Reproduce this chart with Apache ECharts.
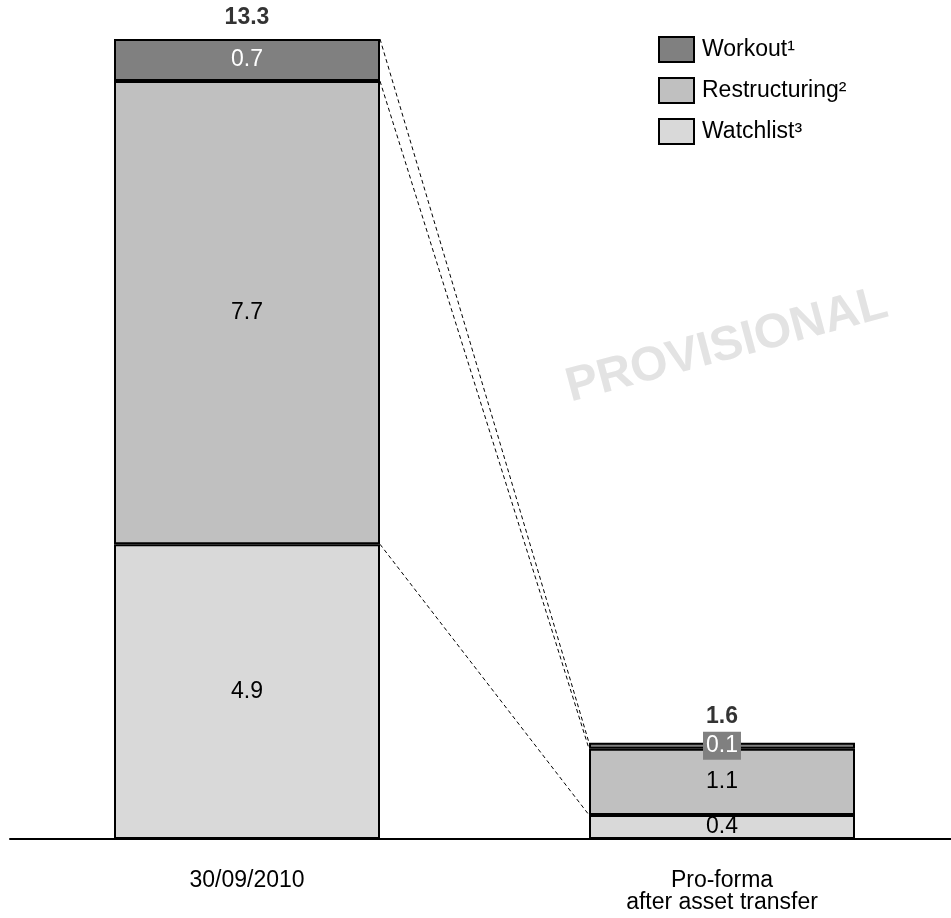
<!DOCTYPE html>
<html>
<head>
<meta charset="utf-8">
<script src="https://cdn.jsdelivr.net/npm/echarts@6/dist/echarts.min.js"></script>
<style>html,body{margin:0;padding:0;background:#fff}#c{width:951px;height:918px}</style>
</head>
<body>
<div id="c"></div>
<script>
const categories = ['30/09/2010', 'Pro-forma\nafter asset transfer'];
const watchlist = [4.9, 0.4];
const restructuring = [7.7, 1.1];
const workout = [0.7, 0.1];
const totals = [13.3, 1.6];
const seriesNames = ['Workout\u00b9', 'Restructuring\u00b2', 'Watchlist\u00b3'];

const FONT = '"Liberation Sans", Arial, sans-serif';
const FS = 23;
const BAR_W = 266;

// connector lines: [fromValue on bar 0, toValue on bar 1]
const cum1 = [watchlist[0], watchlist[0] + restructuring[0], totals[0]];
const cum2 = [watchlist[1], watchlist[1] + restructuring[1], totals[1]];
const connectors = cum1.map((v, i) => [0, v, 1, cum2[i]]);

const chart = echarts.init(document.getElementById('c'), null, {renderer: 'canvas'});

const barBase = {
  type: 'bar', stack: 'a', barWidth: BAR_W, clip: false,
  label: {show: true, position: 'inside', fontSize: FS, fontFamily: FONT, color: '#000'}
};

chart.setOption({
  animation: false,
  backgroundColor: '#fff',
  textStyle: {fontFamily: FONT},
  grid: [
    {left: 247, right: 229, top: 39, bottom: 79, containLabel: false},
    {left: 10, right: 0, top: 39, bottom: 79, containLabel: false}
  ],
  legend: {
    data: seriesNames,
    orient: 'vertical', left: 658, top: 36, padding: 0,
    itemWidth: 35, itemHeight: 25, itemGap: 14,
    icon: 'rect',
    textStyle: {fontSize: FS, fontFamily: FONT, color: '#000', padding: [0, 0, 0, 3]}
  },
  xAxis: [{
    type: 'category', data: categories, boundaryGap: false, gridIndex: 0,
    axisLine: {show: false},
    axisTick: {show: false},
    axisLabel: {fontSize: FS, fontFamily: FONT, color: '#000', margin: 31, lineHeight: 22,
                interval: 0, showMinLabel: true, showMaxLabel: true}
  }, {
    type: 'value', gridIndex: 1, min: 0, max: 1,
    axisLine: {show: true, lineStyle: {color: '#000', width: 2}},
    axisTick: {show: false}, axisLabel: {show: false}, splitLine: {show: false}
  }],
  yAxis: [
    {type: 'value', min: 0, max: totals[0], show: false, splitLine: {show: false}, gridIndex: 0},
    {type: 'value', min: 0, max: 1, show: false, splitLine: {show: false}, gridIndex: 1}
  ],
  graphic: [{
    type: 'text',
    x: 727, y: 346,
    rotation: 15 * Math.PI / 180,
    style: {text: 'PROVISIONAL', fontSize: 48, fontWeight: 'bold', fontFamily: FONT,
            fill: '#e3e3e3', align: 'center', verticalAlign: 'middle'},
    z: 0
  }],
  series: [
    Object.assign({}, barBase, {name: seriesNames[2], data: watchlist, itemStyle: {color: '#d9d9d9', borderColor: '#000', borderWidth: 2}}),
    Object.assign({}, barBase, {name: seriesNames[1], data: restructuring, itemStyle: {color: '#c0c0c0', borderColor: '#000', borderWidth: 2}}),
    Object.assign({}, barBase, {name: seriesNames[0], data: workout,
      itemStyle: {color: '#808080', borderColor: '#000', borderWidth: 2},
      label: {show: true, position: 'inside', fontSize: FS, fontFamily: FONT, color: '#fff',
              backgroundColor: '#808080', padding: [3, 3, 2, 3]}}),
    {
      type: 'scatter', name: 'total', data: totals, symbolSize: 1, clip: false,
      itemStyle: {color: 'rgba(0,0,0,0)'}, silent: true,
      label: {show: true, position: 'top', fontSize: FS, fontWeight: 'bold', fontFamily: FONT, color: '#000',
              distance: 0,
              formatter: p => p.value.toFixed(1)},
      labelLayout: function (p) { return {dy: p.dataIndex === 0 ? -9 : -14}; }
    },
    {
      type: 'custom', name: 'connectors', data: connectors, silent: true, z: 1, clip: false,
      renderItem: function (params, api) {
        const a = api.coord([api.value(0), api.value(1)]);
        const b = api.coord([api.value(2), api.value(3)]);
        return {
          type: 'line',
          shape: {x1: a[0] + BAR_W / 2, y1: a[1], x2: b[0] - BAR_W / 2, y2: b[1]},
          style: {stroke: '#000', lineWidth: 1, lineDash: [4, 3]}
        };
      }
    }
  ]
});
</script>
</body>
</html>
